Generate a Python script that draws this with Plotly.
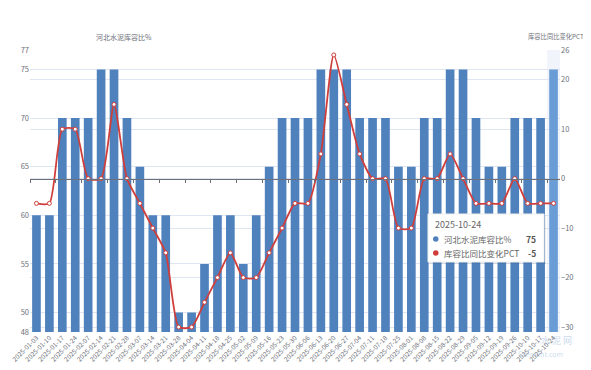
import plotly.graph_objects as go

dates = ["2025-01-03", "2025-01-10", "2025-01-17", "2025-01-24", "2025-02-07", "2025-02-14",
         "2025-02-21", "2025-02-28", "2025-03-07", "2025-03-14", "2025-03-21", "2025-03-28",
         "2025-04-04", "2025-04-11", "2025-04-18", "2025-04-25", "2025-05-02", "2025-05-09",
         "2025-05-16", "2025-05-23", "2025-05-30", "2025-06-06", "2025-06-13", "2025-06-20",
         "2025-06-27", "2025-07-04", "2025-07-11", "2025-07-18", "2025-07-25", "2025-08-01",
         "2025-08-08", "2025-08-15", "2025-08-22", "2025-08-29", "2025-09-05", "2025-09-12",
         "2025-09-19", "2025-09-26", "2025-10-10", "2025-10-17", "2025-10-24"]

stock_ratio = [60, 60, 70, 70, 70, 75, 75, 70, 65, 60, 60, 50, 50, 55, 60, 60, 55, 60, 65, 70,
               70, 70, 75, 75, 75, 70, 70, 70, 65, 65, 70, 70, 75, 75, 70, 65, 65, 70, 70, 70, 75]

yoy_pct = [-5, -5, 10, 10, 0, 0, 15, 0, -5, -10, -15, -30, -30, -25, -20, -15, -20, -20, -15, -10,
           -5, -5, 5, 25, 15, 5, 0, 0, -10, -10, 0, 0, 5, 0, -5, -5, -5, 0, -5, -5, -5]

name_bar = "河北水泥库容比%"
name_line = "库容比同比变化PCT"
left_ticks = [48, 50, 55, 60, 65, 70, 75, 77]
right_ticks = [-30, -20, -10, 0, 10, 20, 26]
left_range = [48, 77]
right_range = [-31, 26]
hover_idx = len(dates) - 1

# screen geometry (page body has an 8px default margin)
SW, SH = 591, 370
OFF = 8
L, R, T, B = 30, 560, 50, 332
FW, FH = SW - OFF, SH - OFF


def px(x):
    return (x - L) / (R - L)


def py(y):
    return (B - y) / (B - T)


BAR = "#4f81bd"
BAR_HI = "#6a9dd6"
RED = "#cf3e3b"
GRID = "#E0E6F1"
AX = "#6e7079"
FONT = "Noto Sans CJK SC, Noto Sans, sans-serif"

bar_colors = [BAR_HI if i == hover_idx else BAR for i in range(len(dates))]

fig = go.Figure()
fig.add_trace(go.Bar(
    x=dates, y=stock_ratio, name=name_bar, marker=dict(color=bar_colors, line=dict(width=0)),
    xaxis="x", yaxis="y",
))
fig.add_trace(go.Scatter(
    x=dates, y=yoy_pct, name=name_line, mode="lines+markers",
    line=dict(color=RED, width=1.8, shape="spline", smoothing=0.6),
    marker=dict(symbol="circle", size=4, color="white", line=dict(color=RED, width=1)),
    xaxis="x2", yaxis="y2",
))

n = len(dates)
fig.update_layout(
    width=FW, height=FH,
    margin=dict(l=L - OFF, r=SW - R, t=T - OFF, b=SH - B, autoexpand=False),
    paper_bgcolor="white", plot_bgcolor="white",
    showlegend=False, hovermode=False,
    bargap=0.33,
    font=dict(family=FONT, color=AX, size=7.5),
    xaxis=dict(type="category", range=[-0.5, n - 0.5], tickangle=-45,
               tickfont=dict(size=6.5, color=AX), showgrid=False, showline=False,
               ticks="", zeroline=False, automargin=False),
    xaxis2=dict(type="category", matches="x", overlaying="x", anchor="free",
                position=(0 - right_range[0]) / (right_range[1] - right_range[0]),
                showline=True, linecolor=AX, linewidth=1, ticks="outside", ticklen=3,
                tickcolor=AX, tickson="boundaries", showticklabels=False, showgrid=False,
                zeroline=False),
    yaxis=dict(range=left_range, tickvals=left_ticks, gridcolor=GRID, showline=False,
               zeroline=False, tickfont=dict(size=7.5, color=AX), automargin=False),
    yaxis2=dict(range=right_range, tickvals=right_ticks, overlaying="y", side="right",
                gridcolor=GRID, showline=False, zeroline=False,
                tickfont=dict(size=7.5, color=AX), automargin=False),
)

# axis-pointer shadow band behind hovered category
fig.add_shape(type="rect", xref="x", yref="paper", x0=hover_idx - 0.5, x1=hover_idx + 0.5,
              y0=0, y1=1, fillcolor="rgba(210,219,238,0.3)", line=dict(width=0), layer="below")

# axis names
fig.add_annotation(text=name_bar, xref="paper", yref="paper", x=px(124), y=py(37),
                   showarrow=False, font=dict(size=7, color=AX), xanchor="center", yanchor="middle")
fig.add_annotation(text=name_line, xref="paper", yref="paper", x=px(586), y=py(37),
                   showarrow=False, font=dict(size=6.3, color=AX), xanchor="right", yanchor="middle")

# tooltip
fig.add_shape(type="rect", xref="paper", yref="paper", x0=px(429), x1=px(546), y0=py(264), y1=py(215),
              fillcolor="rgba(0,0,0,0.06)", line=dict(width=0))
fig.add_shape(type="rect", xref="paper", yref="paper", x0=px(428), x1=px(544), y0=py(262), y1=py(214),
              fillcolor="white", line=dict(color="#eeeeee", width=1))
fig.add_annotation(text=dates[hover_idx], xref="paper", yref="paper", x=px(433), y=py(224),
                   showarrow=False, font=dict(size=9, color="#666666"), xanchor="left", yanchor="middle")
rows = [(name_bar, stock_ratio[hover_idx], BAR, 239), (name_line, yoy_pct[hover_idx], RED, 253)]
for label, val, col, yy in rows:
    fig.add_shape(type="circle", xref="paper", yref="paper",
                  x0=px(433), x1=px(438.5), y0=py(yy + 2.75), y1=py(yy - 2.75),
                  fillcolor=col, line=dict(width=0))
    fig.add_annotation(text=label, xref="paper", yref="paper", x=px(441.5), y=py(yy),
                       showarrow=False, font=dict(size=8.5, color="#666666"), xanchor="left", yanchor="middle")
    fig.add_annotation(text="<b>%s</b>" % val, xref="paper", yref="paper", x=px(537.5), y=py(yy),
                       showarrow=False, font=dict(size=8.5, color="#555555"), xanchor="right", yanchor="middle")

# watermark
fig.add_annotation(text="水 泥 网", xref="paper", yref="paper", x=px(574), y=py(349),
                   showarrow=False, font=dict(size=9, color="rgba(90,140,200,0.35)"))
fig.add_annotation(text="Ccement.com", xref="paper", yref="paper", x=px(565), y=py(361),
                   showarrow=False, font=dict(size=7, color="rgba(90,140,200,0.35)"))

fig.write_html("out.html")
